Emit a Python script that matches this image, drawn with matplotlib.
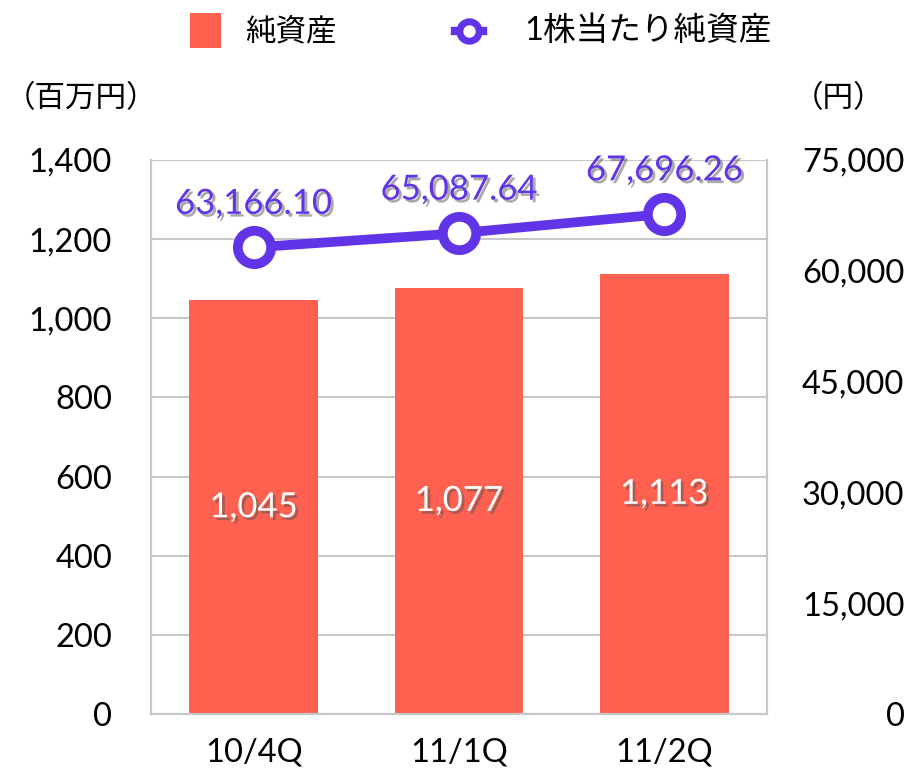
import matplotlib
matplotlib.use("Agg")
import matplotlib.pyplot as plt
import matplotlib.patheffects as pe
from matplotlib.lines import Line2D
from matplotlib.patches import Rectangle
import numpy as np

plt.rcParams['font.family'] = ['Lato', 'Noto Sans CJK JP', 'DejaVu Sans']

# データ
categories = ['10/4Q', '11/1Q', '11/2Q']
net_assets = [1045, 1077, 1113]          # 百万円
bps = [63166.10, 65087.64, 67696.26]     # 円
left_ticks = [0, 200, 400, 600, 800, 1000, 1200, 1400]
right_ticks = [0, 15000, 30000, 45000, 60000, 75000]

bar_color = '#FF6150'
line_color = '#6234E8'
grid_color = '#C8C8C8'

W, H = 914, 774
fig = plt.figure(figsize=(W / 100, H / 100), dpi=100)
ax = fig.add_axes([0.1652, 0.0775, 0.674, 0.7158])
ax2 = ax.twinx()

x = np.arange(len(categories))
ax.bar(x, net_assets, width=0.625, color=bar_color, zorder=2)
ax.set_xlim(-0.5, len(categories) - 0.5)
ax.set_ylim(0, 1400)
ax.set_yticks(left_ticks)
ax.set_yticklabels([f'{v:,}' for v in left_ticks], fontsize=23.5)
ax.set_xticks(x)
ax.set_xticklabels(categories, fontsize=23.5)
ax.yaxis.grid(True, color=grid_color, linewidth=1.5, zorder=0)
ax.set_axisbelow(True)
ax.tick_params(axis='y', length=0, pad=28)
ax.tick_params(axis='x', length=0, pad=17)

shadow = [pe.SimplePatchShadow(offset=(2, -2), shadow_rgbFace='#555555', alpha=0.5), pe.Normal()]
for xi, v in zip(x, net_assets):
    ax.text(xi, v / 2, f'{v:,}', color='white', ha='center', va='center',
            fontsize=25, path_effects=shadow, zorder=3)

ax2.plot(x, bps, color=line_color, linewidth=7, marker='o', markersize=24,
         markerfacecolor='white', markeredgecolor=line_color, markeredgewidth=7, zorder=4)
ax2.set_ylim(0, 75000)
ax2.set_yticks(right_ticks)
ax2.set_yticklabels([f'{v:,}' for v in right_ticks], fontsize=23.5, ha='right')
ax2.tick_params(length=0, pad=99)
for xi, v in zip(x, bps):
    ax2.text(xi, v + 5900, f'{v:,.2f}', color=line_color, ha='center', va='center',
             fontsize=25, path_effects=shadow, zorder=5)

for a in (ax, ax2):
    for s in a.spines.values():
        s.set_color(grid_color)
        s.set_linewidth(1.5)
    a.spines['top'].set_visible(False)

fig.text(5 / W, 1 - 98 / H, '（百万円）', fontsize=22, ha='left', va='center')
fig.text(884 / W, 1 - 98 / H, '（円）', fontsize=22, ha='right', va='center')

# 凡例（手描き）
fig.add_artist(Rectangle((190 / W, 1 - 48 / H), 31 / W, 35 / H, transform=fig.transFigure,
                         facecolor=bar_color, edgecolor='none'))
fig.text(245 / W, 1 - 31 / H, '純資産', fontsize=22, ha='left', va='center')
fig.add_artist(Line2D([455 / W, 483 / W], [1 - 31 / H, 1 - 31 / H], transform=fig.transFigure,
                      color=line_color, linewidth=6))
fig.add_artist(Line2D([469 / W], [1 - 31 / H], transform=fig.transFigure, marker='o',
                      markersize=14, markerfacecolor='white', markeredgecolor=line_color,
                      markeredgewidth=5, linestyle='none'))
fig.text(524 / W, 1 - 31 / H, '1株当たり純資産', fontsize=23.5, ha='left', va='center')

fig.savefig('out.png', dpi=100)
